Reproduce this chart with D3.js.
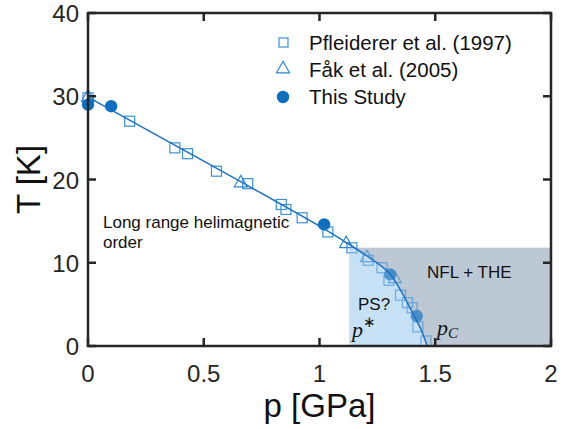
<!DOCTYPE html>
<html><head><meta charset="utf-8">
<script src="https://cdn.jsdelivr.net/npm/d3@7"></script>
<style>body{margin:0;background:#fff}svg{display:block}</style>
</head><body>
<script>
// Data
const pfleidererP = [0, 0.18, 0.375, 0.43, 0.555, 0.69, 0.835, 0.855, 0.925, 1.036, 1.14, 1.21, 1.27, 1.30, 1.35, 1.38, 1.40, 1.425, 1.46];
const pfleidererT = [29.8, 27.0, 23.8, 23.1, 21.0, 19.5, 17.0, 16.4, 15.4, 13.7, 11.8, 10.3, 9.4, 7.9, 6.1, 5.2, 4.6, 2.3, 0.6];
const fakP = [0, 0.66, 1.115, 1.205, 1.325];
const fakT = [30.0, 19.7, 12.4, 10.7, 8.2];
const studyP = [0, 0.1, 1.02, 1.305, 1.42];
const studyT = [29.0, 28.8, 14.6, 8.6, 3.6];
const fitP = [0, 0.5, 1.0, 1.1, 1.2, 1.3, 1.35, 1.40, 1.44, 1.465];
const fitT = [29.9, 22.2, 14.4, 12.7, 10.9, 8.8, 6.7, 4.1, 1.9, 0];
const xTicks = [0, 0.5, 1, 1.5, 2];
const yTicks = [0, 10, 20, 30, 40];
const pStar = 1.13, regionTop = 11.8;
const legendLabels = ["Pfleiderer et al. (1997)", "Fåk et al. (2005)", "This Study"];

const W = 571, H = 429;
const svg = d3.select("body").append("svg").attr("width", W).attr("height", H);
const x = d3.scaleLinear().domain([0, 2]).range([88, 551]);
const y = d3.scaleLinear().domain([0, 40]).range([346, 13]);
const sqColor = "#3d8fd6", triColor = "#2f86d3", dotColor = "#0d6fc0", lineColor = "#1a72c4";
const font = "'Liberation Sans', Arial, sans-serif";
const fit = fitP.map((p, i) => [p, fitT[i]]);

// shaded regions (opaque base)
svg.append("clipPath").attr("id", "reg").append("rect")
  .attr("x", x(pStar)).attr("y", y(regionTop)).attr("width", x(2) - x(pStar)).attr("height", y(0) - y(regionTop));
const area = d3.area().x(d => x(d[0])).y0(y(0)).y1(d => y(d[1])).curve(d3.curveCatmullRom);
function shade(op) {
  const s = svg.append("g").attr("opacity", op);
  s.append("rect").attr("x", x(pStar)).attr("y", y(regionTop)).attr("width", x(2) - x(pStar)).attr("height", y(0) - y(regionTop))
    .attr("fill", "#bcc8d3");
  s.append("path").datum(fit).attr("d", area).attr("clip-path", "url(#reg)").attr("fill", "#c6e1f6");
}
shade(1);

// markers
const g = svg.append("g");
g.selectAll("rect.sq").data(pfleidererP.map((p, i) => [p, pfleidererT[i]])).join("rect")
  .attr("x", d => x(d[0]) - 5).attr("y", d => y(d[1]) - 5).attr("width", 10).attr("height", 10)
  .attr("fill", "none").attr("stroke", sqColor).attr("stroke-width", 1.2);
const tri = d3.symbol().type(d3.symbolTriangle).size(75);
g.selectAll("path.tri").data(fakP.map((p, i) => [p, fakT[i]])).join("path")
  .attr("d", tri).attr("transform", d => `translate(${x(d[0])},${y(d[1]) + 1})`)
  .attr("fill", "none").attr("stroke", triColor).attr("stroke-width", 1.2);
g.selectAll("circle").data(studyP.map((p, i) => [p, studyT[i]])).join("circle")
  .attr("cx", d => x(d[0])).attr("cy", d => y(d[1])).attr("r", 6.2).attr("fill", dotColor);

// translucent overlay to dim markers inside the region
shade(0.35);

// fit line
const line = d3.line().x(d => x(d[0])).y(d => y(d[1])).curve(d3.curveCatmullRom);
svg.append("path").datum(fit).attr("d", line).attr("fill", "none").attr("stroke", lineColor).attr("stroke-width", 1.5);

// axes frame
const ax = svg.append("g").attr("stroke", "#262626").attr("stroke-width", 2.5).attr("fill", "none");
ax.append("rect").attr("x", x(0)).attr("y", y(40)).attr("width", x(2) - x(0)).attr("height", y(0) - y(40));
xTicks.forEach(t => {
  ax.append("line").attr("x1", x(t)).attr("x2", x(t)).attr("y1", y(0)).attr("y2", y(0) - 8);
  ax.append("line").attr("x1", x(t)).attr("x2", x(t)).attr("y1", y(40)).attr("y2", y(40) + 8);
});
yTicks.forEach(t => {
  ax.append("line").attr("x1", x(0)).attr("x2", x(0) + 8).attr("y1", y(t)).attr("y2", y(t));
  ax.append("line").attr("x1", x(2)).attr("x2", x(2) - 8).attr("y1", y(t)).attr("y2", y(t));
});
svg.selectAll("text.xt").data(xTicks).join("text").attr("x", d => x(d)).attr("y", y(0) + 36)
  .attr("text-anchor", "middle").attr("font-family", font).attr("font-size", 24).attr("fill", "#262626").text(d => d);
svg.selectAll("text.yt").data(yTicks).join("text").attr("x", x(0) - 9).attr("y", d => y(d) + 9)
  .attr("text-anchor", "end").attr("font-family", font).attr("font-size", 24).attr("fill", "#262626").text(d => d);
svg.append("text").attr("x", x(1)).attr("y", 417).attr("text-anchor", "middle").attr("font-family", font)
  .attr("font-size", 33).attr("fill", "#111").text("p [GPa]");
svg.append("text").attr("transform", `translate(40,${y(20)}) rotate(-90)`).attr("text-anchor", "middle")
  .attr("font-family", font).attr("font-size", 33).attr("fill", "#111").text("T [K]");

// legend
const lg = svg.append("g");
lg.append("rect").attr("x", 279).attr("y", 38).attr("width", 9).attr("height", 9).attr("fill", "none").attr("stroke", sqColor).attr("stroke-width", 1.2);
lg.append("path").attr("d", tri).attr("transform", "translate(283,69)").attr("fill", "none").attr("stroke", triColor).attr("stroke-width", 1.2);
lg.append("circle").attr("cx", 283).attr("cy", 97).attr("r", 6.2).attr("fill", dotColor);
[43, 70, 97].forEach((yy, i) => lg.append("text").attr("x", 309).attr("y", yy + 7).attr("font-family", font)
  .attr("font-size", 20.5).attr("fill", "#111").text(legendLabels[i]));

// annotations
svg.append("text").attr("x", 103).attr("y", 228).attr("font-family", font).attr("font-size", 17).attr("fill", "#111").text("Long range helimagnetic");
svg.append("text").attr("x", 103).attr("y", 248).attr("font-family", font).attr("font-size", 17).attr("fill", "#111").text("order");
svg.append("text").attr("x", 427).attr("y", 278).attr("font-family", font).attr("font-size", 17).attr("fill", "#111").text("NFL + THE");
svg.append("text").attr("x", 358).attr("y", 310).attr("font-family", font).attr("font-size", 17).attr("fill", "#111").text("PS?");
const ps = svg.append("text").attr("x", 352).attr("y", 337).attr("font-family", "'Liberation Serif', serif").attr("font-style", "italic").attr("font-size", 22).attr("fill", "#111");
ps.append("tspan").text("p");
ps.append("tspan").attr("dy", -10).attr("font-size", 15).attr("font-style", "normal").text("∗");
const pc = svg.append("text").attr("x", 437).attr("y", 335).attr("font-family", "'Liberation Serif', serif").attr("font-style", "italic").attr("font-size", 22).attr("fill", "#111");
pc.append("tspan").text("p");
pc.append("tspan").attr("dy", 3).attr("font-size", 15).text("C");
</script>
</body></html>
